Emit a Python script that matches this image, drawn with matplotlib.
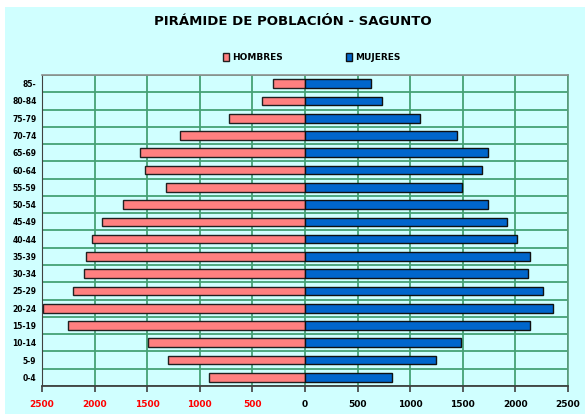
import numpy as np
import matplotlib.pyplot as plt
from matplotlib.patches import Rectangle
from matplotlib.ticker import FixedLocator, FuncFormatter

# Age groups, youngest first (bottom of the pyramid)
grupos = ["0-4", "5-9", "10-14", "15-19", "20-24", "25-29", "30-34", "35-39",
          "40-44", "45-49", "50-54", "55-59", "60-64", "65-69", "70-74",
          "75-79", "80-84", "85-"]
hombres = [910, 1300, 1490, 2250, 2490, 2205, 2100, 2085, 2025, 1930,
           1730, 1320, 1520, 1565, 1190, 720, 405, 300]
mujeres = [825, 1250, 1480, 2140, 2355, 2260, 2120, 2140, 2020, 1925,
           1745, 1495, 1685, 1745, 1450, 1095, 730, 630]

BG = "#d0ffff"
ROSA = "#ff8080"
AZUL = "#0066cc"
VERDE = "#45a175"

fig = plt.figure(figsize=(5.86, 4.18), dpi=100)
fig.patch.set_facecolor("white")
fig.patches.append(Rectangle((0.009, 0.009), 0.989, 0.974, transform=fig.transFigure,
                             facecolor=BG, edgecolor="none", zorder=-10))

ax = fig.add_axes([0.0717, 0.0766, 0.8973, 0.744])
ax.set_facecolor(BG)

y = np.arange(len(grupos))
ax.barh(y, -np.array(hombres), height=0.5, color=ROSA, edgecolor="#202020",
        linewidth=1.0, label="HOMBRES", zorder=3)
ax.barh(y, mujeres, height=0.5, color=AZUL, edgecolor="#101010",
        linewidth=1.0, label="MUJERES", zorder=3)

ax.set_xlim(-2500, 2500)
ax.set_ylim(-0.5, len(grupos) - 0.5)

ax.xaxis.set_major_locator(FixedLocator(np.arange(-2500, 2501, 500)))
ax.xaxis.set_major_formatter(FuncFormatter(lambda v, p: f"{abs(int(v))}"))
ax.set_yticks(y)
ax.set_yticklabels(grupos)
ax.yaxis.set_minor_locator(FixedLocator(np.arange(-0.5, len(grupos), 1.0)))

ax.grid(axis="x", which="major", color=VERDE, linewidth=1.3, zorder=1)
ax.grid(axis="y", which="minor", color=VERDE, linewidth=1.3, zorder=1)
ax.tick_params(axis="y", which="both", length=0, labelsize=5.5, pad=4)
ax.tick_params(axis="x", length=4, width=1.2, color="#404040", labelsize=6.5, pad=6)
for lbl in ax.get_yticklabels():
    lbl.set_fontweight("bold")
for lbl, v in zip(ax.get_xticklabels(), np.arange(-2500, 2501, 500)):
    lbl.set_fontweight("bold")
    lbl.set_color("#ff0000" if v < 0 else "black")

for s in ["top", "right"]:
    ax.spines[s].set_color("#909090")
    ax.spines[s].set_linewidth(1.2)
ax.spines["right"].set_color("#5a9a7a")
ax.spines["left"].set_color("#404040")
ax.spines["bottom"].set_color("#404040")
ax.spines["bottom"].set_linewidth(1.3)

fig.text(0.5, 0.948, "PIRÁMIDE DE POBLACIÓN - SAGUNTO", ha="center", va="center",
         fontsize=9.5, fontweight="heavy", family="DejaVu Sans")

fig.legend(loc="center", bbox_to_anchor=(0.532, 0.862), ncol=2, frameon=False,
           handlelength=0.7, handleheight=0.9, columnspacing=7.0,
           handletextpad=0.3, prop={"weight": "bold", "size": 6.5})

fig.savefig("out.png", dpi=100, facecolor=fig.get_facecolor())
